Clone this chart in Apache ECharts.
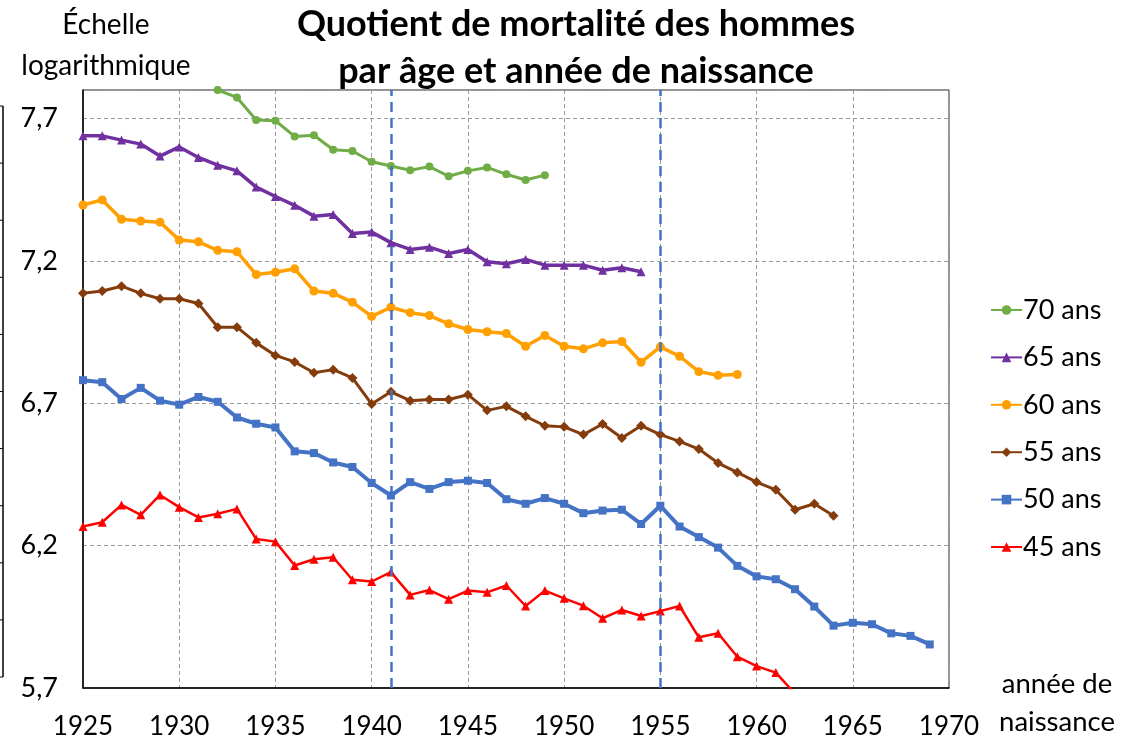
<!DOCTYPE html>
<html>
<head>
<meta charset="utf-8">
<script src="https://cdn.jsdelivr.net/npm/echarts@6/dist/echarts.min.js"></script>
<style>
  html, body { margin: 0; padding: 0; background: #fff; }
  #chart { width: 1124px; height: 742px; }
</style>
</head>
<body>
<div id="chart"></div>
<script>
// quotient de mortalité (échelle log), par année de naissance
const start70 = 1932;
const q70 = [7.80, 7.774, 7.695, 7.692, 7.637, 7.641, 7.590, 7.586, 7.548, 7.533,
  7.518, 7.531, 7.497, 7.516, 7.528, 7.504, 7.484, 7.501];

const start65 = 1925;
const q65 = [7.639, 7.639, 7.624, 7.610, 7.568, 7.600, 7.563, 7.536, 7.516, 7.459,
  7.426, 7.395, 7.357, 7.363, 7.296, 7.301, 7.264, 7.240, 7.248, 7.226,
  7.240, 7.197, 7.190, 7.205, 7.185, 7.185, 7.185, 7.167, 7.176, 7.162];

const start60 = 1925;
const q60 = [7.396, 7.414, 7.346, 7.340, 7.336, 7.273, 7.267, 7.237, 7.232, 7.152,
  7.160, 7.172, 7.094, 7.086, 7.055, 7.005, 7.037, 7.018, 7.008, 6.979,
  6.959, 6.951, 6.945, 6.900, 6.938, 6.900, 6.891, 6.912, 6.917, 6.844,
  6.898, 6.865, 6.811, 6.798, 6.801];

const start55 = 1925;
const q55 = [7.086, 7.094, 7.111, 7.086, 7.067, 7.067, 7.050, 6.967, 6.967, 6.912,
  6.868, 6.845, 6.807, 6.818, 6.789, 6.697, 6.740, 6.709, 6.713, 6.713,
  6.730, 6.675, 6.689, 6.654, 6.621, 6.617, 6.590, 6.627, 6.578, 6.621,
  6.590, 6.566, 6.539, 6.490, 6.457, 6.423, 6.396, 6.326, 6.347, 6.305];

const start50 = 1925;
const q50 = [6.781, 6.774, 6.715, 6.754, 6.709, 6.695, 6.722, 6.705, 6.650, 6.628,
  6.615, 6.531, 6.525, 6.492, 6.476, 6.420, 6.376, 6.423, 6.399, 6.423,
  6.428, 6.420, 6.363, 6.347, 6.367, 6.347, 6.314, 6.323, 6.326, 6.276,
  6.340, 6.267, 6.230, 6.193, 6.129, 6.092, 6.082, 6.047, 5.986, 5.919,
  5.929, 5.924, 5.892, 5.883, 5.853];

const start45 = 1925;
const q45 = [6.267, 6.282, 6.343, 6.308, 6.378, 6.335, 6.299, 6.312, 6.329, 6.223,
  6.214, 6.130, 6.152, 6.159, 6.080, 6.074, 6.107, 6.027, 6.044, 6.012,
  6.042, 6.036, 6.060, 5.988, 6.042, 6.015, 5.989, 5.945, 5.974, 5.953,
  5.970, 5.988, 5.878, 5.892, 5.810, 5.777, 5.754, 5.680];

const markYears = [1941, 1955];
const seriesNames = ['70 ans', '65 ans', '60 ans', '55 ans', '50 ans', '45 ans'];

const FONT = 'Lato, "Open Sans", sans-serif';

function pairs(start, vals) {
  return vals.map((v, i) => [start + i, v]);
}

function lineSeries(name, start, vals, color, symbol, size, width) {
  return {
    name: name,
    type: 'line',
    data: pairs(start, vals),
    symbol: symbol,
    symbolSize: size,
    clip: true,
    itemStyle: { color: color },
    lineStyle: { color: color, width: width },
    emphasis: { disabled: true }
  };
}

const chart = echarts.init(document.getElementById('chart'));

// petit axe coupé à gauche de l'image
const leftTicks = [];
for (let k = 0; k <= 10; k++) {
  leftTicks.push({
    type: 'line',
    shape: { x1: 0, y1: 106 + k * 57.1, x2: 3, y2: 106 + k * 57.1 },
    style: { stroke: '#000', lineWidth: 1 }
  });
}

const option = {
  animation: false,
  backgroundColor: '#fff',
  grid: { left: 83, top: 90, width: 866, height: 598, show: true, borderColor: '#262626', borderWidth: 1 },
  xAxis: {
    type: 'value',
    min: 1925,
    max: 1970,
    interval: 5,
    axisLine: { show: true, lineStyle: { color: '#000', width: 1.5 } },
    axisTick: { show: false },
    axisLabel: { color: '#000', fontSize: 26, fontFamily: FONT, margin: 26, formatter: v => String(v) },
    splitLine: { show: true, lineStyle: { color: '#9a9a9a', type: [4, 3], width: 1 } }
  },
  yAxis: {
    type: 'value',
    min: 5.7,
    max: 7.8,
    interval: 0.5,
    axisLine: { show: true, lineStyle: { color: '#000', width: 1.5 } },
    axisTick: { show: false },
    axisLabel: {
      color: '#000', fontSize: 27, fontFamily: FONT, margin: 25, showMaxLabel: false,
      formatter: v => (Math.abs(v - 7.8) < 1e-6 ? '' : v.toFixed(1).replace('.', ','))
    },
    splitLine: { show: true, lineStyle: { color: '#9a9a9a', type: [4, 3], width: 1 } }
  },
  legend: {
    orient: 'vertical',
    left: 985,
    top: 290,
    itemWidth: 31,
    itemHeight: 12,
    itemGap: 17.4,
    data: seriesNames,
    textStyle: { color: '#000', fontSize: 27, fontFamily: FONT, lineHeight: 30, padding: [0, 0, 0, -4] }
  },
  graphic: [
    {
      type: 'text',
      style: {
        text: 'Quotient de mortalité des hommes\npar âge et année de naissance',
        x: 576, y: 48, align: 'center', verticalAlign: 'middle',
        fontSize: 36, fontWeight: 'bold', fontFamily: FONT, lineHeight: 47, fill: '#000'
      }
    },
    {
      type: 'text',
      style: {
        text: 'Échelle\nlogarithmique', x: 106, y: 45, align: 'center', verticalAlign: 'middle',
        fontSize: 28, fontFamily: FONT, lineHeight: 41, fill: '#000'
      }
    },
    {
      type: 'text',
      style: {
        text: 'année de\nnaissance', x: 1057, y: 703, align: 'center', verticalAlign: 'middle',
        fontSize: 27.5, fontFamily: FONT, lineHeight: 38, fill: '#000'
      }
    },
    {
      type: 'group',
      children: [
        { type: 'line', shape: { x1: 3, y1: 106, x2: 3, y2: 677 }, style: { stroke: '#000', lineWidth: 1.5 } }
      ].concat(leftTicks)
    }
  ],
  series: [
    lineSeries('45 ans', start45, q45, '#FF0000', 'triangle', 9, 2.5),
    lineSeries('50 ans', start50, q50, '#4472C4', 'rect', 8, 4),
    lineSeries('55 ans', start55, q55, '#843C0C', 'diamond', 10, 3),
    lineSeries('60 ans', start60, q60, '#FFA000', 'circle', 9, 3.5),
    lineSeries('65 ans', start65, q65, '#7030A0', 'triangle', 9, 3.5),
    lineSeries('70 ans', start70, q70, '#70AD47', 'circle', 8, 3),
    {
      name: 'repères',
      type: 'line',
      data: [],
      markLine: {
        silent: true,
        symbol: ['none', 'none'],
        label: { show: false },
        lineStyle: { color: '#4472C4', width: 2.5, type: [10, 6] },
        data: markYears.map(y => ({ xAxis: y }))
      }
    }
  ]
};

chart.setOption(option);
</script>
</body>
</html>
